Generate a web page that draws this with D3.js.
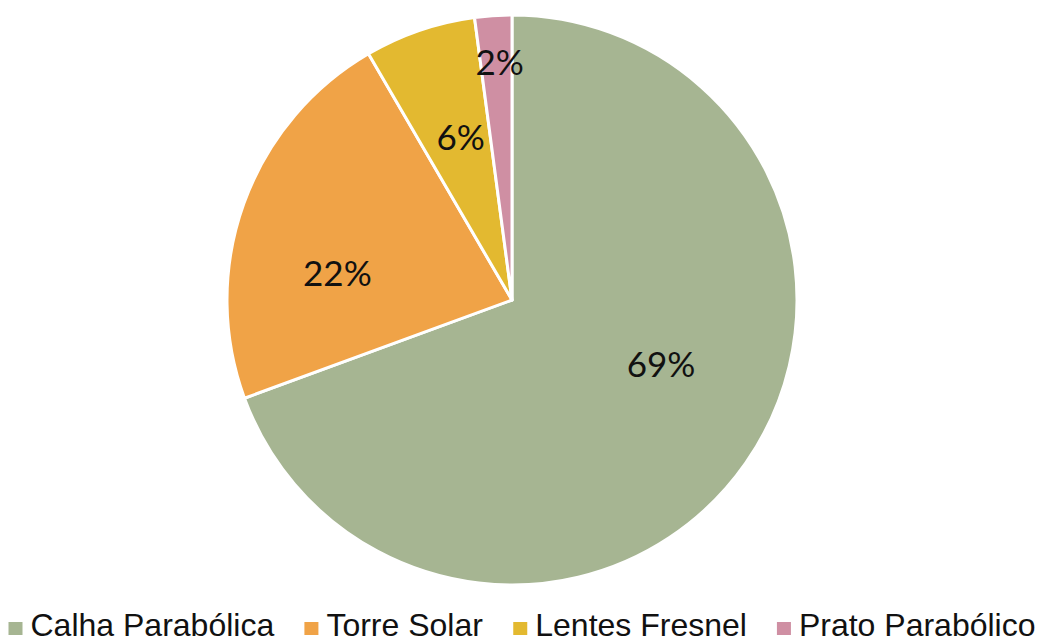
<!DOCTYPE html>
<html><head><meta charset="utf-8">
<script src="https://cdn.jsdelivr.net/npm/d3@7"></script>
<style>body{margin:0;background:#fff;}svg{display:block;}</style>
</head><body>
<svg id="c" width="1040" height="643"></svg>
<script>
const categories = ["Calha Parabólica", "Torre Solar", "Lentes Fresnel", "Prato Parabólico"];
const values = [69.4, 22.2, 6.3, 2.1];
const labels = ["69%", "22%", "6%", "2%"];
const colors = ["#a6b592", "#f0a347", "#e3b930", "#cf8fa3"];
// label placement (radius fraction, angular nudge in degrees)
const labelRadius = [0.57, 0.62, 0.60, 0.835];
const labelShift = [-11.5, -11, 1.4, 0.8];

const svg = d3.select("#c");
const cx = 512, cy = 300, R = 285;
const g = svg.append("g").attr("transform", `translate(${cx},${cy})`);
const pie = d3.pie().sort(null).value(d => d.v).startAngle(0).endAngle(2*Math.PI);
const data = categories.map((c,i)=>({c, v: values[i], i}));
const arcs = pie(data);
const arc = d3.arc().innerRadius(0).outerRadius(R);
g.selectAll("path").data(arcs).join("path")
  .attr("d", arc).attr("fill", d=>colors[d.data.i])
  .attr("stroke", "#fff").attr("stroke-width", 3).attr("stroke-linejoin","round");
g.selectAll("text.lbl").data(arcs).join("text").attr("class","lbl")
  .attr("transform", d => {
    const a = (d.startAngle + d.endAngle)/2 + labelShift[d.data.i]*Math.PI/180;
    const r = R*labelRadius[d.data.i];
    return `translate(${Math.sin(a)*r},${-Math.cos(a)*r})`;
  })
  .attr("text-anchor","middle").attr("dy","0.36em")
  .style("font-family","Lato, 'Open Sans', sans-serif").style("font-size","35px").attr("fill","#111")
  .text((d)=>labels[d.data.i]);

// legend
const leg = svg.append("g");
const items = leg.selectAll("g").data(categories).join("g");
items.append("rect").attr("width",14).attr("height",13).attr("y",-14).attr("fill",(d,i)=>colors[i]);
items.append("text").attr("x",22).attr("y",0)
  .style("font-family","'Liberation Sans', Arial, sans-serif").style("font-size","32px").attr("fill","#111").text(d=>d);
let x = 0; const gap = 30;
items.each(function(){ const w = this.getBBox().width; d3.select(this).attr("transform",`translate(${x},0)`); x += w + gap; });
const total = x - gap;
leg.attr("transform", `translate(${522 - total/2},636)`);
</script>
</body></html>
